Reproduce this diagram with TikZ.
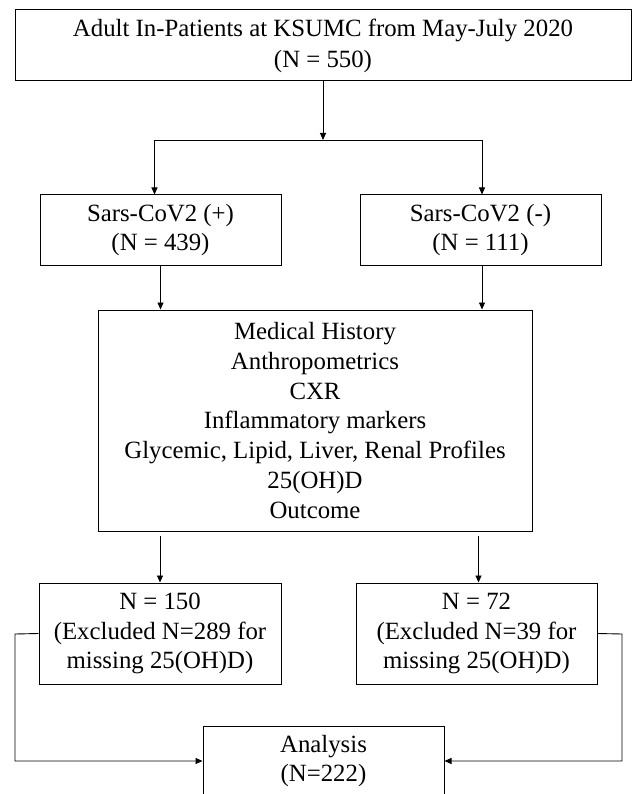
\documentclass[tikz,border=0pt]{standalone}
\usepackage{fontspec}
\setmainfont{Liberation Serif}
\usetikzlibrary{arrows.meta}
\tikzset{
  boxnode/.style={draw=black, line width=1pt, inner sep=0pt, align=center,
    font=\fontsize{24.8}{29.7}\selectfont},
  arr/.style={line width=0.9pt, -{Triangle[length=7pt,width=6pt]}},
  plain/.style={line width=0.9pt}
}
\begin{document}
\begin{tikzpicture}[x=1pt,y=-1pt]
\useasboundingbox (0,0) rectangle (632,794);
\fill[white] (0,0) rectangle (632,794);
\begin{scope}
\clip (0,0) rectangle (632,794);
\node[boxnode, minimum width=616pt, minimum height=71pt,
  font=\fontsize{24.8}{31}\selectfont] (top) at (323,45.5)
  {Adult In-Patients at KSUMC from May-July 2020\\(N = 550)};
\node[boxnode, minimum width=241pt, minimum height=70pt] (sp) at (160.5,230)
  {Sars-CoV2 (+)\\(N = 439)};
\node[boxnode, minimum width=241pt, minimum height=70pt] (sn) at (480.5,230)
  {Sars-CoV2 (-)\\(N = 111)};
\node[boxnode, minimum width=434pt, minimum height=221pt] (mid) at (315,420.5)
  {Medical History\\Anthropometrics\\CXR\\Inflammatory markers\\Glycemic, Lipid, Liver, Renal Profiles\\25(OH)D\\Outcome};
\node[boxnode, minimum width=242pt, minimum height=101pt] (bl) at (160,633.5)
  {N = 150\\(Excluded N=289 for\\missing 25(OH)D)};
\node[boxnode, minimum width=241pt, minimum height=101pt] (br) at (476.5,633.5)
  {N = 72\\(Excluded N=39 for\\missing 25(OH)D)};
\node[boxnode, minimum width=241pt, minimum height=70pt] (an) at (323.5,761)
  {Analysis\\(N=222)};
\coordinate (j) at (323,140);
\coordinate (lc) at (15,634);
\coordinate (rc) at (622,634);
\draw[arr] (top.south) -- (j);
\draw[arr] (j) -| ([xshift=-6pt]sp.north);
\draw[arr] (j) -| ([xshift=1.5pt]sn.north);
\draw[arr] (sp.south) -- (sp.south |- mid.north);
\draw[arr] ([xshift=1.5pt]sn.south) -- ([xshift=1.5pt]sn.south |- mid.north);
\draw[arr, shorten <=4pt] (bl.north |- mid.south) -- (bl.north);
\draw[arr, shorten <=4pt] ([xshift=2pt]br.north |- mid.south) -- ([xshift=2pt]br.north);
\draw[arr] (bl.west) -- (lc) |- (an.west);
\draw[arr] (br.east) -- (rc) |- (an.east);
\end{scope}
\end{tikzpicture}
\end{document}
